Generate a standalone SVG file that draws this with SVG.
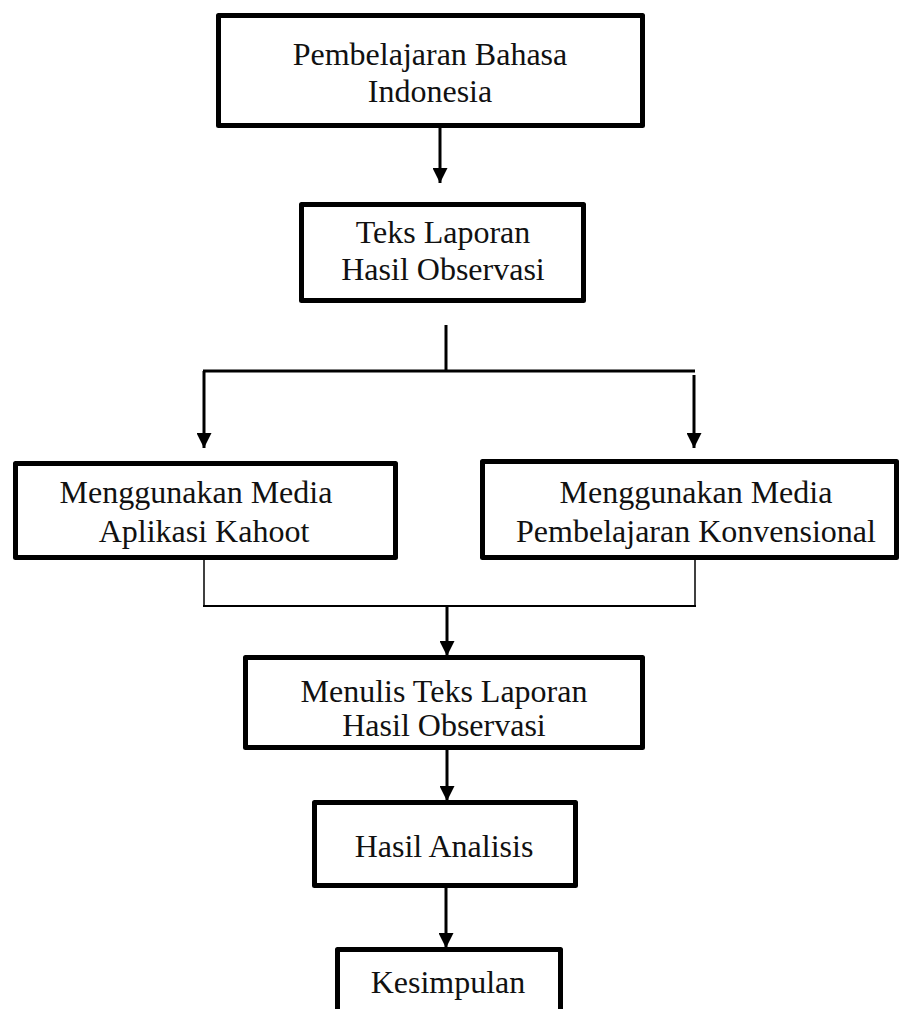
<svg xmlns="http://www.w3.org/2000/svg" width="901" height="1009" viewBox="0 0 901 1009">
<style>
.box{fill:#fff;stroke:#000;stroke-width:5;stroke-linejoin:round}
.t{font-family:"Liberation Serif","Times New Roman",serif;font-size:32px;fill:#111;text-anchor:middle}
.c{stroke:#000;stroke-width:3;fill:none}
.thin{stroke:#000;stroke-width:1.5;fill:none}
</style>
<defs>
<marker id="ah" viewBox="0 0 15 15" refX="15" refY="7.5" markerWidth="15" markerHeight="15" markerUnits="userSpaceOnUse" orient="auto">
<path d="M0,0 L15,7.5 L0,15 Z" fill="#000"/>
</marker>
</defs>
<rect width="901" height="1009" fill="#fff"/>
<g id="connectors">
<line class="c" x1="440" y1="128" x2="440" y2="183" marker-end="url(#ah)"/>
<line class="c" x1="446" y1="325" x2="446" y2="371"/>
<line class="c" x1="203" y1="371" x2="695" y2="371"/>
<line class="c" x1="204" y1="371" x2="204" y2="448" marker-end="url(#ah)"/>
<line class="c" x1="694" y1="375" x2="694" y2="448" marker-end="url(#ah)"/>
<line class="thin" x1="204" y1="560" x2="204" y2="606"/>
<line class="thin" x1="695" y1="560" x2="695" y2="606"/>
<line stroke="#000" stroke-width="2.2" x1="203" y1="606" x2="696" y2="606"/>
<line class="c" x1="447" y1="606" x2="447" y2="656" marker-end="url(#ah)"/>
<line class="c" x1="447" y1="750" x2="447" y2="801" marker-end="url(#ah)"/>
<line class="c" x1="446" y1="888" x2="446" y2="948" marker-end="url(#ah)"/>
</g>
<g id="n1">
<rect class="box" x="218.5" y="15.5" width="424" height="110"/>
<text class="t" x="430" y="65">Pembelajaran Bahasa</text>
<text class="t" x="430" y="102">Indonesia</text>
</g>
<g id="n2">
<rect class="box" x="301.5" y="204.5" width="282" height="96"/>
<text class="t" x="443" y="243">Teks Laporan</text>
<text class="t" x="443" y="280">Hasil Observasi</text>
</g>
<g id="n3">
<rect class="box" x="15.5" y="463.5" width="380" height="94"/>
<text class="t" x="196" y="503">Menggunakan Media</text>
<text class="t" x="204" y="542">Aplikasi Kahoot</text>
</g>
<g id="n4">
<rect class="box" x="482.5" y="461.5" width="414" height="96"/>
<text class="t" x="696" y="503">Menggunakan Media</text>
<text class="t" x="696" y="542">Pembelajaran Konvensional</text>
</g>
<g id="n5">
<rect class="box" x="245.5" y="657.5" width="397" height="90"/>
<text class="t" x="444" y="702">Menulis Teks Laporan</text>
<text class="t" x="444" y="736">Hasil Observasi</text>
</g>
<g id="n6">
<rect class="box" x="314.5" y="802.5" width="261" height="83"/>
<text class="t" x="444" y="857">Hasil Analisis</text>
</g>
<g id="n7">
<rect class="box" x="337.5" y="949.5" width="223" height="90"/>
<text class="t" x="448" y="993">Kesimpulan</text>
</g>
</svg>
